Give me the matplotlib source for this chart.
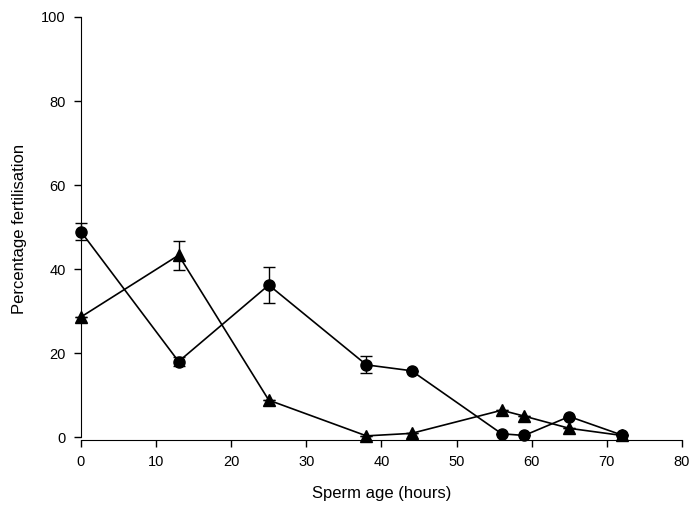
import matplotlib
matplotlib.use("Agg")
import matplotlib.pyplot as plt

plt.rcParams['font.family'] = ['Liberation Sans', 'DejaVu Sans']

# sperm age (hours)
hours = [0, 13, 25, 38, 44, 56, 59, 65, 72]
# circles series
circ = [48.9, 18.0, 36.2, 17.2, 15.8, 0.8, 0.4, 4.9, 0.5]
circ_err = [2.0, 1.0, 4.2, 2.0, 0, 0, 0, 0, 0]
# triangles series
tri = [28.6, 43.3, 8.8, 0.3, 0.9, 6.4, 5.0, 2.1, 0.4]
tri_err = [0, 3.5, 0, 0, 0, 0, 0, 0, 0]

fig = plt.figure(figsize=(6.92, 5.07), dpi=100)
ax = fig.add_axes([0.117, 0.132, 0.8685, 0.8345])

for ys, err, mk in [(tri, tri_err, '^'), (circ, circ_err, 'o')]:
    parts = ax.errorbar(hours, ys, yerr=err, color='black', marker=mk, ms=8,
                        lw=1.2, capsize=4, elinewidth=1.0, capthick=1.0)
    for art in parts.lines[0:1] + tuple(parts.lines[1]) + tuple(parts.lines[2]):
        art.set_clip_on(False)

ax.set_xlim(0, 80)
ax.set_ylim(-0.7, 100)
ax.set_xticks(range(0, 81, 10))
ax.set_yticks(range(0, 101, 20))
ax.spines['top'].set_visible(False)
ax.spines['right'].set_visible(False)
ax.spines['left'].set_bounds(0, 100)
ax.tick_params(direction='out', length=5, width=1, labelsize=10.5, pad=6)

ax.set_xlabel('Sperm age (hours)', fontsize=12, labelpad=12)
ax.set_ylabel('Percentage fertilisation', fontsize=12, labelpad=10)

fig.savefig('out.png', dpi=100)
